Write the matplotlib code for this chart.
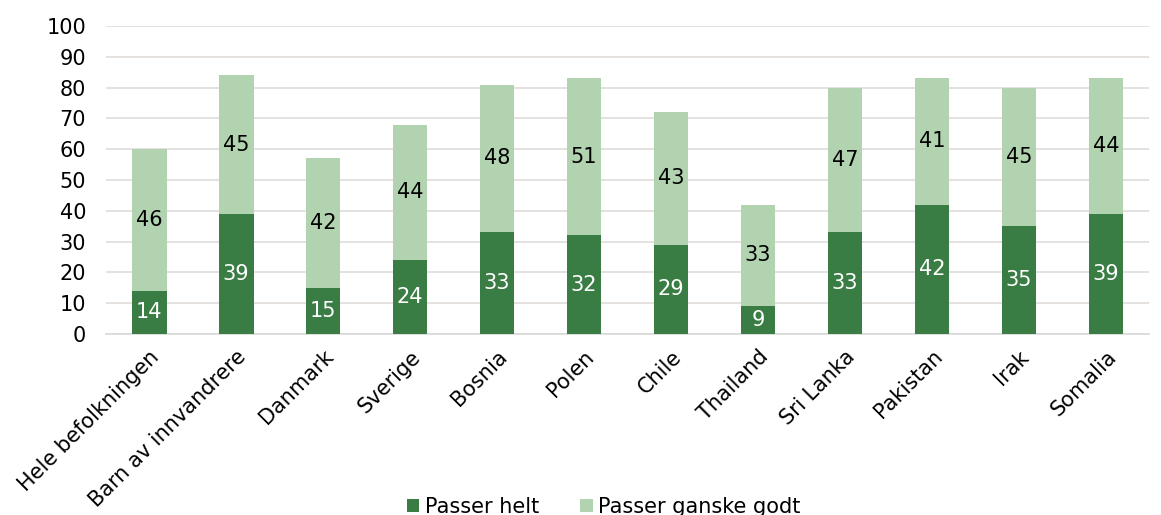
import numpy as np
import matplotlib.pyplot as plt

categories = ["Hele befolkningen", "Barn av innvandrere", "Danmark", "Sverige",
              "Bosnia", "Polen", "Chile", "Thailand", "Sri Lanka", "Pakistan",
              "Irak", "Somalia"]
passer_helt = [14, 39, 15, 24, 33, 32, 29, 9, 33, 42, 35, 39]
passer_ganske_godt = [46, 45, 42, 44, 48, 51, 43, 33, 47, 41, 45, 44]

DARK = "#3a7d44"
LIGHT = "#b2d3b0"
FS = 15

plt.rcParams["font.family"] = ["DejaVu Sans"]

fig = plt.figure(figsize=(11.61, 5.15), dpi=100)
ax = fig.add_axes([0.091, 0.3515, 0.899, 0.598])

x = np.arange(len(categories))
w = 0.4
ax.bar(x, passer_helt, w, color=DARK, label="Passer helt", zorder=3)
ax.bar(x, passer_ganske_godt, w, bottom=passer_helt, color=LIGHT,
       label="Passer ganske godt", zorder=3)

# value labels inside each segment
for i in range(len(categories)):
    h = passer_helt[i]
    g = passer_ganske_godt[i]
    ax.text(x[i], h / 2, str(h), ha="center", va="center", color="white", fontsize=FS, zorder=4)
    ax.text(x[i], h + g / 2, str(g), ha="center", va="center", color="black", fontsize=FS, zorder=4)

ax.set_ylim(0, 100)
ax.set_yticks(range(0, 101, 10))
ax.set_xlim(-0.5, len(categories) - 0.5)
ax.set_xticks(x)
ax.set_xticklabels(categories, rotation=45, ha="right", rotation_mode="anchor")
ax.tick_params(axis="both", length=0, labelsize=FS)
ax.tick_params(axis="y", pad=14)
ax.tick_params(axis="x", pad=9)
ax.yaxis.grid(True, color="#e0dcd8", linewidth=1.2, zorder=0)
for s in ["top", "right", "left"]:
    ax.spines[s].set_visible(False)
ax.spines["bottom"].set_color("#d9d9d9")
ax.spines["bottom"].set_linewidth(1.2)

fig.legend(loc="lower center", bbox_to_anchor=(0.52, -0.04), ncol=2, frameon=False,
           fontsize=FS, handlelength=0.6, handleheight=0.6, handletextpad=0.25,
           columnspacing=2.0)

fig.savefig("out.png", dpi=100)
